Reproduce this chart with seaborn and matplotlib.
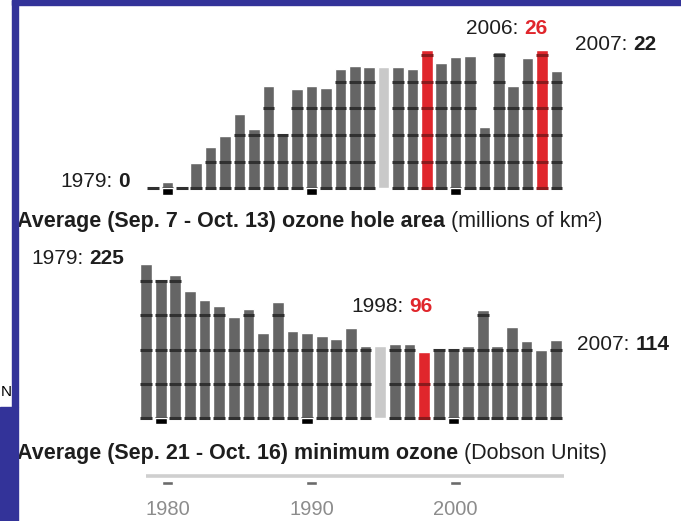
import matplotlib
matplotlib.use("Agg")
import matplotlib.pyplot as plt
import seaborn as sns
import pandas as pd
from matplotlib.patches import Rectangle
from matplotlib.colors import to_rgb

# data
years = list(range(1979, 2008))
area = [0, 1.1, 0.3, 4.7, 7.8, 9.8, 14.0, 11.1, 19.2, 10.4, 18.7, 19.2, 18.9, 22.3,
        22.9, 22.8, 22.8, 22.8, 22.3, 26.0, 23.6, 24.7, 24.9, 11.5, 25.6, 19.2,
        24.4, 26.0, 22.1]
ozone = [225, 203, 209, 186, 172, 164, 148, 159, 124, 170, 128, 125, 120, 115,
         131, 106, 106, 108, 108, 96, 102, 103, 106, 158, 106, 133, 113, 100, 114]
area_red = [1998, 2006]
ozone_red = [1998]
no_data = [1995]
decades = [1980, 1990, 2000]
area_grid = [0, 5, 10, 15, 20, 25]
ozone_grid = [0, 50, 100, 150, 200]

GRAY, DARK, LIGHT, RED = "#656565", "#303030", "#c9c9c9", "#e0262c"
TXT = "#1e1e1e"
W, H = 681, 521

sns.set_style("white")
plt.rcParams["font.family"] = ["Liberation Sans", "DejaVu Sans"]

fig = plt.figure(figsize=(W / 100, H / 100), dpi=100)


def px_axes(left, right, top, bottom):
    return fig.add_axes([left / W, 1 - bottom / H, (right - left) / W, (bottom - top) / H])


def colors_for(red):
    return {str(y): (RED if y in red else LIGHT if y in no_data else GRAY) for y in years}


def bar_panel(ax, values, red, grid, marker_depth, ylim):
    df = pd.DataFrame({"year": [str(y) for y in years], "value": values})
    sns.barplot(data=df, x="year", y="value", hue="year", palette=colors_for(red),
                legend=False, width=0.8, saturation=1, ax=ax)
    # dark stripes across each bar at the grid levels
    for p in list(ax.patches):
        fc = to_rgb(p.get_facecolor())
        if fc == to_rgb(LIGHT):
            continue
        sc = "#8a1a1c" if fc == to_rgb(RED) else DARK
        x0, w, h = p.get_x(), p.get_width(), p.get_height()
        for g in grid:
            if g < h or g == 0:
                ax.plot([x0, x0 + w], [g, g], color=sc, lw=2.2, solid_capstyle="butt", zorder=3)
    # black decade markers below the baseline
    idx = [years.index(d) for d in decades]
    ax.bar(idx, [-marker_depth] * len(idx), width=0.8, color="black", zorder=4)
    ax.set_xlim(-0.5, len(years) - 0.5)
    ax.set_ylim(*ylim)
    ax.axis("off")


ax1 = px_axes(145.8, 563.7, 39.1, 196.3)
bar_panel(ax1, area, area_red, area_grid, 1.2, (-1.5, 28))

ax2 = px_axes(138.7, 563.2, 253.7, 426.5)
bar_panel(ax2, ozone, ozone_red, ozone_grid, 9, (-12, 240))

# shared year axis at the bottom
ax3 = px_axes(145.8, 563.7, 465, 521)
ax3.set_xlim(-0.5, len(years) - 0.5)
ax3.set_ylim(0, 1)
ax3.axhline(0.81, color="#cfcfcf", lw=2.6)
idx = [years.index(d) for d in decades]
ax3.bar(idx, [0.08] * len(idx), bottom=0.64, width=0.8, color="#6a6a6a")
for i, d in zip(idx, decades):
    ax3.text(i, 0.2, str(d), ha="center", va="center", fontsize=14.5, color="#8c8c8c")
ax3.axis("off")


def value_label(px, py, lead, val, color=TXT):
    t = ax1.annotate(lead, xy=(px / W, 1 - py / H), xycoords="figure fraction",
                     ha="left", va="center", fontsize=15, color=TXT, annotation_clip=False)
    ax1.annotate(val, xy=(1, 0.5), xycoords=t, xytext=(6, 0), textcoords="offset pixels",
                 ha="left", va="center", fontsize=15, fontweight="bold", color=color,
                 annotation_clip=False)


value_label(60, 182, "1979:", "0")
value_label(466, 28, "2006:", "26", RED)
value_label(575, 44, "2007:", "22")
value_label(31, 258, "1979:", "225")
value_label(351, 307, "1998:", "96", RED)
value_label(577, 345, "2007:", "114")


def title(px, py, bold, rest):
    t = ax1.annotate(bold, xy=(px / W, 1 - py / H), xycoords="figure fraction",
                     ha="left", va="center", fontsize=15.5, fontweight="bold", color=TXT,
                     annotation_clip=False)
    ax1.annotate(rest, xy=(1, 0), xycoords=t, ha="left", va="bottom", fontsize=15.5,
                 color=TXT, annotation_clip=False)


title(17, 221, "Average (Sep. 7 - Oct. 13) ozone hole area", " (millions of km²)")
title(17, 453, "Average (Sep. 21 - Oct. 16) minimum ozone", " (Dobson Units)")

# slide frame around the picture
PURPLE = "#333399"
for x, y, w, h in [(12, 0, W - 12, 5), (12, 0, 5.5, 407), (0, 407, 17.5, H - 407)]:
    fig.patches.append(Rectangle((x / W, 1 - (y + h) / H), w / W, h / H,
                                 transform=fig.transFigure, color=PURPLE, zorder=10))
fig.text(0.5 / W, 1 - 392 / H, "N", ha="left", va="center", fontsize=11, color="black")

fig.savefig("out.png", dpi=100)
